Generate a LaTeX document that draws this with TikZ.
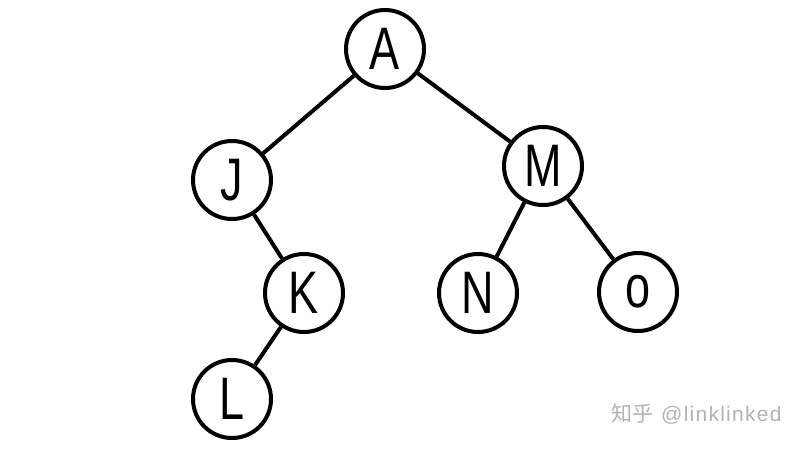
\documentclass[tikz,border=0pt]{standalone}
\usepackage{fontspec}
\usepackage{graphicx}
\setmainfont{Liberation Sans}
\newfontfamily\cjk{Noto Sans CJK SC}
\newfontfamily\wmfont[LetterSpace=6]{Liberation Sans}
\tikzset{
  treenode/.style={circle, draw=black, line width=4pt, minimum size=78pt, inner sep=0pt, fill=white},
  edge/.style={line width=4pt, black},
}
\newcommand{\letr}[1]{\scalebox{0.75}[1]{\fontsize{60}{60}\selectfont #1}}
\begin{document}
\begin{tikzpicture}[x=1pt,y=-1pt]
\useasboundingbox (0,0) rectangle (802,448);
\node[treenode] (A) at (385,49) {\letr{A}};
\node[treenode] (J) at (232,180) {\letr{J}};
\node[treenode] (M) at (543,166) {\letr{M}};
\node[treenode] (K) at (304,293) {\letr{K}};
\node[treenode] (N) at (478,293) {\letr{N}};
\node[treenode] (O) at (638,292) {\letr{o}};
\node[treenode] (L) at (232,399) {\letr{L}};
\draw[edge] (A) -- (J);
\draw[edge] (A) -- (M);
\draw[edge] (J) -- (K);
\draw[edge] (K) -- (L);
\draw[edge] (M) -- (N);
\draw[edge] (M) -- (O);
\node[text=black!30, anchor=east, font=\fontsize{21}{21}\selectfont] (wm) at (785,414) {{\cjk 知乎}\hspace{8pt}{\wmfont @linklinked}};
\end{tikzpicture}
\end{document}
